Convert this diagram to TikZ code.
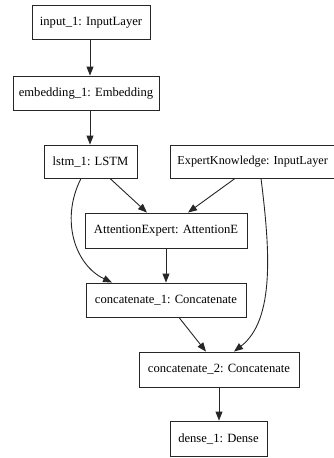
\documentclass[tikz,border=0pt]{standalone}
\usepackage{fontspec}
\setmainfont{Liberation Serif}
\usetikzlibrary{arrows.meta}
\begin{document}
\begin{tikzpicture}[x=1pt,y=-1pt,
  layer/.style={draw=black!85, line width=0.9pt, minimum height=34pt, inner xsep=4pt, font=\fontsize{12.6}{14}\selectfont, anchor=center},
  conn/.style={draw=black!85, line width=0.9pt, -{Triangle[length=9pt,width=7pt]}}]
\useasboundingbox (0,0) rectangle (334,458);
\clip (0,0) rectangle (334,458);
\node[layer, minimum width=118pt] (in) at (91,22.5) {input\_1: InputLayer};
\node[layer, minimum width=146pt] (emb) at (86,93) {embedding\_1: Embedding};
\node[layer, minimum width=93pt, minimum height=33pt] (lstm) at (90.5,161.5) {lstm\_1: LSTM};
\node[layer, minimum height=33pt, anchor=west, inner xsep=7pt, font=\fontsize{12.2}{14}\selectfont] (exp) at (170,161.5) {ExpertKnowledge: InputLayer\hspace{6pt}};
\node[layer, minimum width=162pt, minimum height=35pt] (att) at (166,230.5) {AttentionExpert: AttentionE};
\node[layer, minimum width=160pt] (c1) at (166,300) {concatenate\_1: Concatenate};
\node[layer, minimum width=160pt, minimum height=35pt] (c2) at (219,369.5) {concatenate\_2: Concatenate};
\node[layer, minimum width=97pt, minimum height=35pt] (d1) at (218.5,438.5) {dense\_1: Dense};
\draw[conn] (in.south -| 90,0) -- (emb.north -| 90,0);
\draw[conn] (emb.south -| 90,0) -- (lstm.north -| 90,0);
\draw[conn] (lstm.south -| 110,0) -- (att.north -| 147,0);
\draw[conn] (exp.south -| 235,0) -- (att.north -| 188,0);
\draw[conn] (lstm.south -| 81,0) .. controls (60,220) and (75,265) .. (c1.north -| 112,0);
\draw[conn] (att.south) -- (c1.north);
\draw[conn] (c1.south -| 179,0) -- (c2.north -| 206,0);
\draw[conn] (exp.south -| 261,0) .. controls (270,250) and (275,320) .. (c2.north -| 234,0);
\draw[conn] (c2.south -| 219,0) -- (d1.north -| 219,0);
\end{tikzpicture}
\end{document}
